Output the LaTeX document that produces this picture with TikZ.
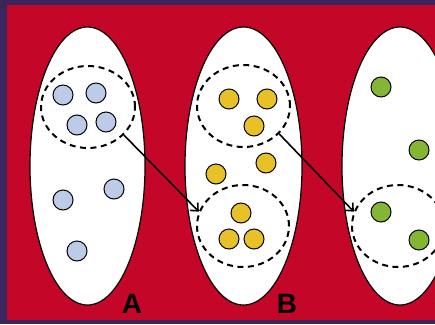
\documentclass[tikz,border=0pt]{standalone}
\usepackage{fontspec}
\setmainfont{Liberation Sans}
\usetikzlibrary{arrows.meta,shapes.geometric}
\definecolor{bgpurple}{RGB}{58,38,92}
\definecolor{bgred}{RGB}{196,6,40}
\definecolor{dotblue}{RGB}{188,204,232}
\definecolor{dotyellow}{RGB}{230,194,40}
\definecolor{dotgreen}{RGB}{132,182,52}
\tikzset{
  setell/.style={draw=black, line width=1.2pt, fill=white},
  group/.style={draw=black, line width=2pt, dash pattern=on 6pt off 4.5pt},
  dot/.style={circle, draw=black, line width=1pt, minimum size=20pt, inner sep=0pt},
  bdot/.style={dot, fill=dotblue},
  ydot/.style={dot, fill=dotyellow},
  gdot/.style={dot, fill=dotgreen},
  lbl/.style={font=\fontsize{28}{28}\selectfont\bfseries, inner sep=0pt},
  conn/.style={draw=black, line width=1.6pt, -{Straight Barb[length=6pt,width=11pt,line width=1.6pt]}}
}
\begin{document}
\begin{tikzpicture}[x=1pt,y=-1pt]
\useasboundingbox (0,0) rectangle (435,324);
\fill[bgpurple] (0,0) rectangle (435,324);
\fill[bgred] (7,5) rectangle (435,320);
\begin{scope}
\clip (0,0) rectangle (435,324);
% ellipses
\draw[setell] (87.5,166) ellipse [x radius=57.5, y radius=139];
\draw[setell] (243.5,166) ellipse [x radius=58.5, y radius=139];
\draw[setell] (400,166) ellipse [x radius=58, y radius=139];
% groups
\node[group, ellipse, minimum width=94pt, minimum height=82pt] (ga) at (88,107) {};
\node[group, ellipse, minimum width=93pt, minimum height=82pt] (gb1) at (243.5,106) {};
\node[group, ellipse, minimum width=92pt, minimum height=82pt] (gb2) at (243,226) {};
\node[group, ellipse, minimum width=92pt, minimum height=82pt] (gc) at (398,226) {};
% dots A
\node[bdot] (a1) at (63,95) {};
\node[bdot] (a2) at (96,93) {};
\node[bdot] (a3) at (77,125) {};
\node[bdot] (a4) at (106,122) {};
\node[bdot] (a5) at (63,200) {};
\node[bdot] (a6) at (114,189) {};
\node[bdot] (a7) at (77,251) {};
% dots B
\node[ydot] (b1) at (229,99) {};
\node[ydot] (b2) at (267,99) {};
\node[ydot] (b3) at (254,126) {};
\node[ydot] (b4) at (266,163) {};
\node[ydot] (b5) at (216,174) {};
\node[ydot] (b6) at (241,213) {};
\node[ydot] (b7) at (229,239) {};
\node[ydot] (b8) at (254,239) {};
% dots C
\node[gdot] (c1) at (381,87) {};
\node[gdot] (c2) at (419,150) {};
\node[gdot] (c3) at (381,212) {};
\node[gdot] (c4) at (419,240) {};
% labels
\node[lbl] (la) at (132,304) {A};
\node[lbl] (lb) at (287,304) {B};
\node[lbl] (lc) at (444,304) {C};
% connectors
\draw[conn] (ga.-38) -- (gb2.162);
\draw[conn] (gb1.-38) -- (gc.162);
\end{scope}
\end{tikzpicture}
\end{document}
